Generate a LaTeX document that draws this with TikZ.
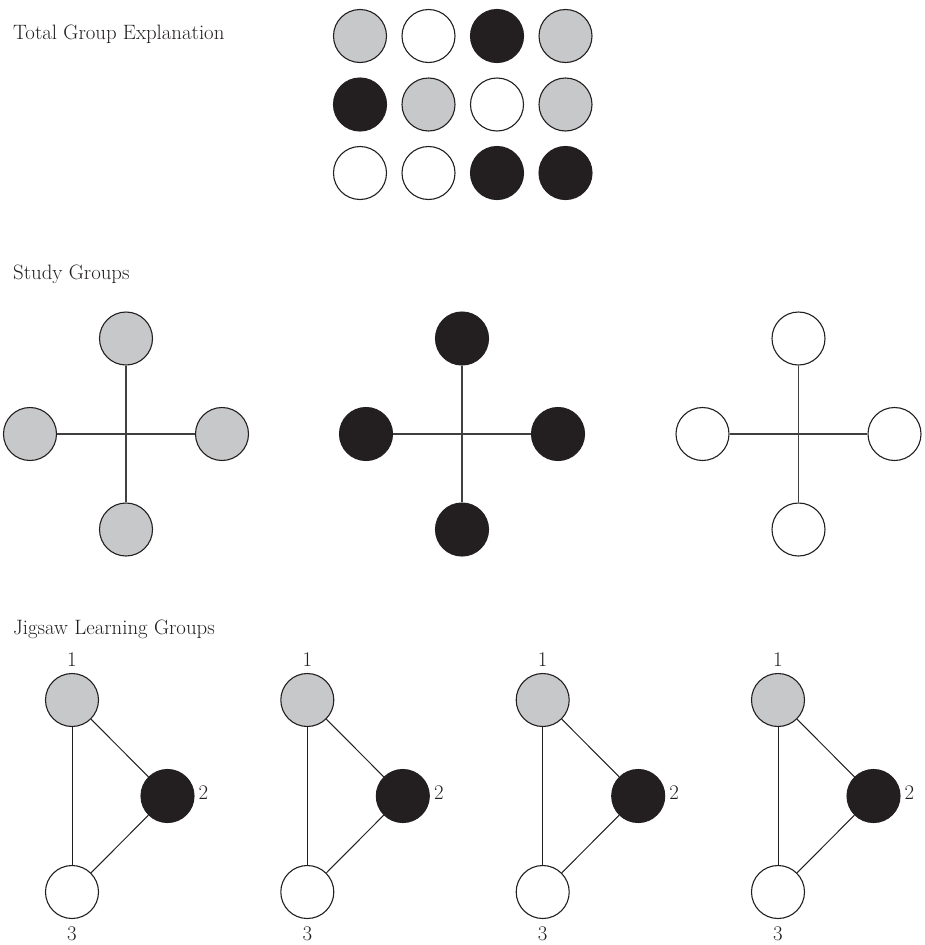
\documentclass[tikz,border=0pt]{standalone}
\definecolor{ink}{HTML}{231F20}
\definecolor{lgray}{HTML}{C7C8CA}
\definecolor{crossc}{HTML}{404040}
\begin{document}
\begin{tikzpicture}[x=1pt,y=-1pt,
  dot/.style={circle,draw=ink,line width=1.1pt,minimum size=53pt,inner sep=0pt},
  gdot/.style={dot,fill=lgray},
  bdot/.style={dot,fill=ink},
  wdot/.style={dot,fill=white},
  crossline/.style={draw=crossc,line width=1.3pt},
  triline/.style={draw=ink,line width=1.0pt},
  lbl/.style={font=\fontsize{20.8}{24}\selectfont,inner sep=0pt,text=ink}]
\useasboundingbox (0,0) rectangle (924,945);

% titles
\node[lbl,anchor=base west] (t1) at (13,39) {Total Group Explanation};
\node[lbl,anchor=base west] (t2) at (13,279) {Study Groups};
\node[lbl,anchor=base west] (t3) at (13,634) {Jigsaw Learning Groups};

% total group grid
\node[gdot] (r1c1) at (360,36) {};
\node[wdot] (r1c2) at (428.5,36) {};
\node[bdot] (r1c3) at (497,36) {};
\node[gdot] (r1c4) at (565.5,36) {};
\node[bdot] (r2c1) at (360,104.5) {};
\node[gdot] (r2c2) at (428.5,104.5) {};
\node[wdot] (r2c3) at (497,104.5) {};
\node[gdot] (r2c4) at (565.5,104.5) {};
\node[wdot] (r3c1) at (360,173) {};
\node[wdot] (r3c2) at (428.5,173) {};
\node[bdot] (r3c3) at (497,173) {};
\node[bdot] (r3c4) at (565.5,173) {};

% study groups
\foreach \cx/\st [count=\i] in {126/gdot,462/bdot,798.5/wdot} {
  \node[\st] (sT\i) at (\cx,338.5) {};
  \node[\st] (sB\i) at (\cx,529.5) {};
  \node[\st] (sL\i) at (\cx-96,434) {};
  \node[\st] (sR\i) at (\cx+96,434) {};
  \draw[crossline] (sT\i) -- (sB\i);
  \draw[crossline] (sL\i) -- (sR\i);
}

% jigsaw groups
\foreach \x [count=\i] in {72,307.3,542.7,778} {
  \node[gdot] (ja\i) at (\x,700) {};
  \node[bdot] (jb\i) at (\x+95.5,796) {};
  \node[wdot] (jc\i) at (\x,892) {};
  \draw[triline] (ja\i) -- (jb\i);
  \draw[triline] (jb\i) -- (jc\i);
  \draw[triline] (jc\i) -- (ja\i);
  \node[lbl,anchor=base] (na\i) at (\x,666) {1};
  \node[lbl,anchor=base west] (nb\i) at (\x+95.5+31,799) {2};
  \node[lbl,anchor=base] (nc\i) at (\x,940) {3};
}
\end{tikzpicture}
\end{document}
